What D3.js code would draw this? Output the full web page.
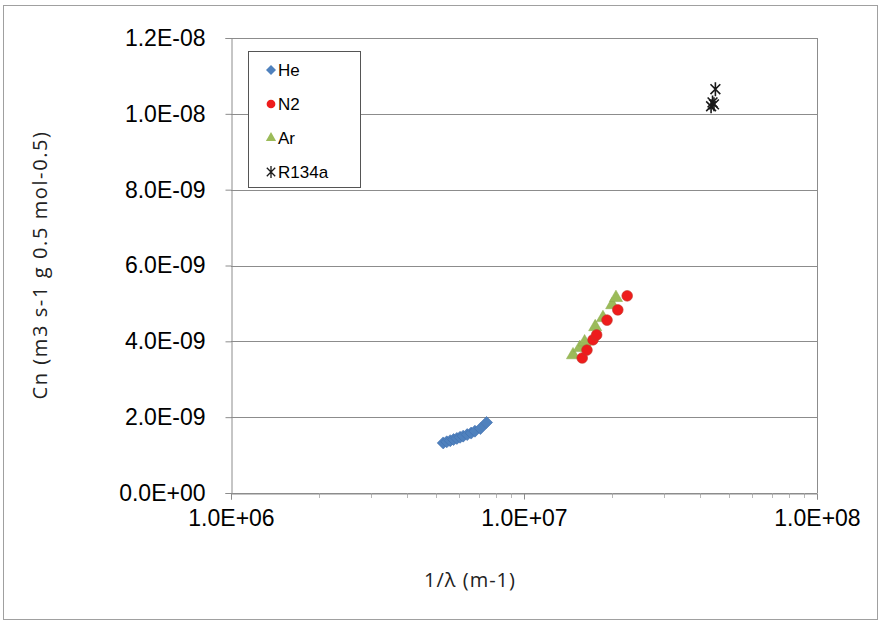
<!DOCTYPE html>
<html>
<head>
<meta charset="utf-8">
<script src="https://cdn.jsdelivr.net/npm/d3@7"></script>
<style>
  body { margin: 0; background: #fff; }
  svg { display: block; }
  .tick-label { font-family: "Liberation Sans", Arial, sans-serif; font-size: 23px; fill: #000; }
  .title { font-family: "Open Sans", "Noto Sans", sans-serif; font-size: 20px; fill: #222; }
  .legend-label { font-family: "Liberation Sans", Arial, sans-serif; font-size: 17px; fill: #000; }
</style>
</head>
<body>
<div id="chart"></div>
<script>
// data (x = 1/lambda in m-1, y = Cn)
const seriesNames = ["He", "N2", "Ar", "R134a"];
const heX = [5.3e6, 5.45e6, 5.6e6, 5.75e6, 5.9e6, 6.05e6, 6.2e6, 6.4e6, 6.6e6, 6.8e6, 7.1e6, 7.45e6];
const heY = [1.32e-9, 1.35e-9, 1.38e-9, 1.41e-9, 1.44e-9, 1.47e-9, 1.5e-9, 1.54e-9, 1.58e-9, 1.63e-9, 1.7e-9, 1.86e-9];
const n2X = [1.58e7, 1.64e7, 1.72e7, 1.77e7, 1.92e7, 2.09e7, 2.25e7];
const n2Y = [3.56e-9, 3.77e-9, 4.04e-9, 4.17e-9, 4.56e-9, 4.83e-9, 5.2e-9];
const arX = [1.47e7, 1.55e7, 1.61e7, 1.75e7, 1.86e7, 2.0e7, 2.06e7];
const arY = [3.64e-9, 3.83e-9, 3.98e-9, 4.38e-9, 4.62e-9, 4.96e-9, 5.15e-9];
const r134aX = [4.5e7, 4.4e7, 4.35e7, 4.45e7];
const r134aY = [1.065e-8, 1.03e-8, 1.02e-8, 1.025e-8];
const yTicks = [0, 2e-9, 4e-9, 6e-9, 8e-9, 1e-8, 1.2e-8];
const xTicks = [1e6, 1e7, 1e8];
const xTitle = "1/\u03bb (m-1)";
const yTitle = "Cn (m3 s-1 g 0.5 mol-0.5)";

const width = 880, height = 622;
const plot = { left: 231, right: 817, top: 38, bottom: 493 };

const svg = d3.select("#chart").append("svg")
  .attr("width", width)
  .attr("height", height);

// outer chart border
svg.append("rect")
  .attr("x", 3.5).attr("y", 5.5)
  .attr("width", 874).attr("height", 614)
  .attr("fill", "#fff")
  .attr("stroke", "#a0a0a0");

const x = d3.scaleLog().domain([1e6, 1e8]).range([plot.left, plot.right]);
const y = d3.scaleLinear().domain([0, 1.2e-8]).range([plot.bottom, plot.top]);

const expFmt = v => {
  if (v === 0) return "0.0E+00";
  const e = Math.floor(Math.log10(v) + 1e-9);
  const m = v / Math.pow(10, e);
  const sign = e < 0 ? "-" : "+";
  return m.toFixed(1) + "E" + sign + String(Math.abs(e)).padStart(2, "0");
};

// horizontal gridlines
svg.append("g")
  .selectAll("line")
  .data(yTicks)
  .enter()
  .append("line")
  .attr("x1", plot.left).attr("x2", plot.right)
  .attr("y1", d => Math.round(y(d)) + 0.5)
  .attr("y2", d => Math.round(y(d)) + 0.5)
  .attr("stroke", "#8c8c8c");

// plot area right border
svg.append("line")
  .attr("x1", plot.right + 0.5).attr("x2", plot.right + 0.5)
  .attr("y1", plot.top).attr("y2", plot.bottom)
  .attr("stroke", "#8c8c8c");

// x axis, minor log ticks first
const xMinor = [];
for (let dec = 1e6; dec < 1e8; dec *= 10) {
  for (let k = 2; k <= 9; k++) xMinor.push(dec * k);
}
svg.append("g")
  .selectAll("line")
  .data(xMinor)
  .enter()
  .append("line")
  .attr("x1", d => Math.round(x(d)) + 0.5)
  .attr("x2", d => Math.round(x(d)) + 0.5)
  .attr("y1", plot.bottom).attr("y2", plot.bottom + 5)
  .attr("stroke", "#b8b8b8");

const xAxis = svg.append("g")
  .attr("transform", `translate(0,${Math.round(plot.bottom) + 0.5})`)
  .call(d3.axisBottom(x).tickValues(xTicks).tickFormat(expFmt).tickSize(6).tickPadding(10));
xAxis.select(".domain").attr("stroke", "#8c8c8c");
xAxis.selectAll(".tick line").attr("stroke", "#8c8c8c");
xAxis.selectAll("text").attr("class", "tick-label").attr("font-size", null).attr("font-family", null);

// y axis
const yAxis = svg.append("g")
  .attr("transform", `translate(${plot.left + 0.5},0)`)
  .call(d3.axisLeft(y).tickValues(yTicks).tickFormat(expFmt).tickSize(6).tickPadding(20));
yAxis.select(".domain").attr("stroke", "#8c8c8c");
yAxis.selectAll(".tick line").attr("stroke", "#8c8c8c");
yAxis.selectAll("text").attr("class", "tick-label").attr("font-size", null).attr("font-family", null);

// axis titles
svg.append("text")
  .attr("class", "title")
  .attr("x", 470)
  .attr("y", 587)
  .attr("text-anchor", "middle")
  .attr("letter-spacing", 1)
  .text(xTitle);

svg.append("text")
  .attr("class", "title")
  .attr("transform", `translate(47,265) rotate(-90)`)
  .attr("text-anchor", "middle")
  .attr("letter-spacing", 1.6)
  .text(yTitle);

// markers
const diamondPath = r => `M0,${-r}L${r},0L0,${r}L${-r},0Z`;
const circle = d3.symbol().type(d3.symbolCircle).size(90);
const triangle = d3.symbol().type(d3.symbolTriangle).size(75);
const starPath = r => {
  const a = r * 0.7;
  return `M0,${-r}L0,${r}M${-a},${-a}L${a},${a}M${-a},${a}L${a},${-a}`;
};

const pts = (xs, ys) => xs.map((v, i) => ({ x: v, y: ys[i] }));

const layer = svg.append("g");

layer.selectAll(".he")
  .data(pts(heX, heY))
  .enter()
  .append("path")
  .attr("d", diamondPath(6))
  .attr("transform", d => `translate(${x(d.x)},${y(d.y)})`)
  .attr("fill", "#4f81bd")
  .attr("stroke", "#3f6fae")
  .attr("stroke-width", 0.6);

layer.selectAll(".ar")
  .data(pts(arX, arY))
  .enter()
  .append("path")
  .attr("d", triangle)
  .attr("transform", d => `translate(${x(d.x)},${y(d.y)})`)
  .attr("fill", "#9bbb59")
  .attr("stroke", "#8aab4a")
  .attr("stroke-width", 0.5);

layer.selectAll(".n2")
  .data(pts(n2X, n2Y))
  .enter()
  .append("path")
  .attr("d", circle)
  .attr("transform", d => `translate(${x(d.x)},${y(d.y)})`)
  .attr("fill", "#ee1c1c")
  .attr("stroke", "#c0392b")
  .attr("stroke-width", 0.6);

layer.selectAll(".r134a")
  .data(pts(r134aX, r134aY))
  .enter()
  .append("path")
  .attr("d", starPath(7))
  .attr("transform", d => `translate(${x(d.x)},${y(d.y)})`)
  .attr("fill", "none")
  .attr("stroke", "#1a1a1a")
  .attr("stroke-width", 1.6);

// legend
const legend = svg.append("g");
legend.append("rect")
  .attr("x", 248.5).attr("y", 51.5)
  .attr("width", 112).attr("height", 136)
  .attr("fill", "#fff")
  .attr("stroke", "#555");

const legendY = d3.scalePoint().domain(seriesNames).range([70, 172]);
const legendMarks = {
  He: g => g.append("path").attr("d", diamondPath(5)).attr("fill", "#4f81bd"),
  N2: g => g.append("path").attr("d", d3.symbol().type(d3.symbolCircle).size(60)).attr("fill", "#ee1c1c"),
  Ar: g => g.append("path").attr("d", d3.symbol().type(d3.symbolTriangle).size(45)).attr("fill", "#9bbb59"),
  R134a: g => g.append("path").attr("d", starPath(6)).attr("fill", "none").attr("stroke", "#1a1a1a").attr("stroke-width", 1.3)
};

seriesNames.forEach(name => {
  const g = legend.append("g").attr("transform", `translate(271,${legendY(name)})`);
  legendMarks[name](g);
  legend.append("text")
    .attr("class", "legend-label")
    .attr("x", 278)
    .attr("y", legendY(name))
    .attr("dy", "0.35em")
    .text(name);
});
</script>
</body>
</html>
